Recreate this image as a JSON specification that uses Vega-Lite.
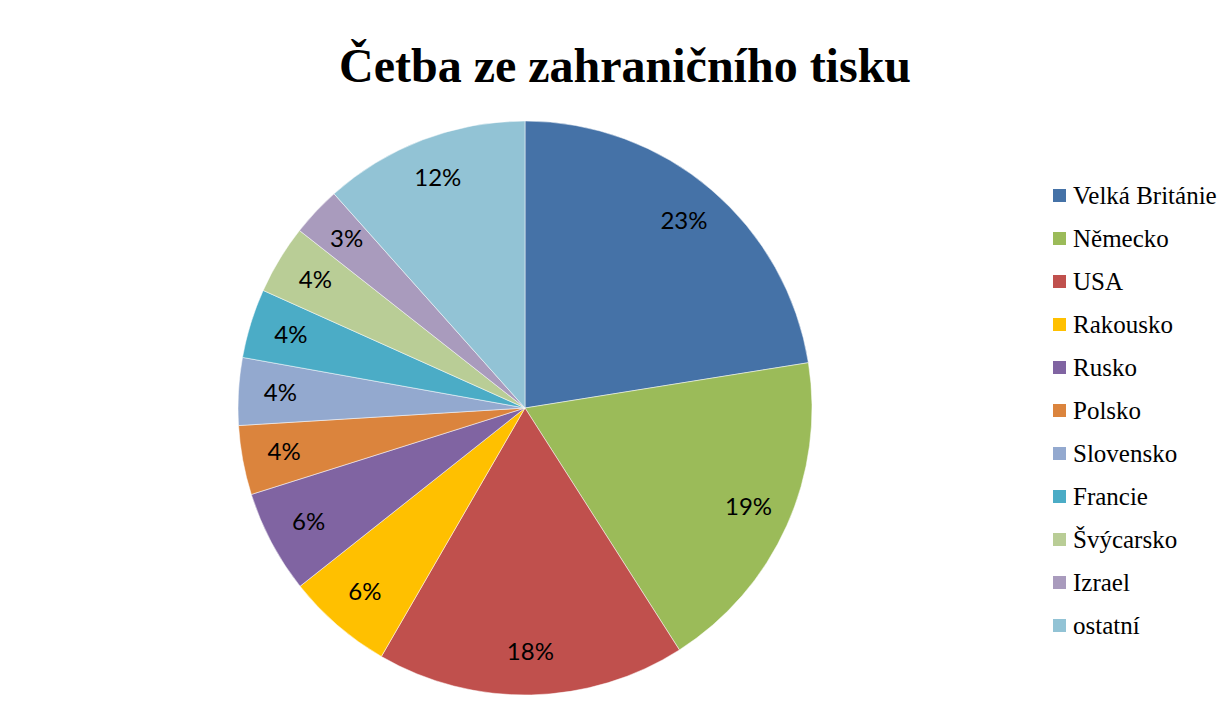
{
  "$schema": "https://vega.github.io/schema/vega-lite/v6.json",
  "autosize": "none",
  "width": 574,
  "height": 574,
  "padding": {"left": 238, "top": 121, "right": 418, "bottom": 20},
  "background": "white",
  "title": {
    "text": "Četba ze zahraničního tisku",
    "font": "Liberation Serif",
    "fontSize": 48,
    "fontWeight": "bold",
    "color": "black",
    "anchor": "middle",
    "dx": 100,
    "offset": -10,
    "baseline": "alphabetic",
    "limit": 1000
  },
  "config": {
    "view": {"stroke": null}
  },
  "data": {
    "values": [
      {"zeme": "Velká Británie", "podil": 22.5, "label": "23%", "poradi": 1},
      {"zeme": "Německo", "podil": 18.5, "label": "19%", "poradi": 2},
      {"zeme": "USA", "podil": 17.4, "label": "18%", "poradi": 3},
      {"zeme": "Rakousko", "podil": 6.0, "label": "6%", "poradi": 4},
      {"zeme": "Rusko", "podil": 5.8, "label": "6%", "poradi": 5},
      {"zeme": "Polsko", "podil": 3.9, "label": "4%", "poradi": 6},
      {"zeme": "Slovensko", "podil": 3.8, "label": "4%", "poradi": 7},
      {"zeme": "Francie", "podil": 3.9, "label": "4%", "poradi": 8},
      {"zeme": "Švýcarsko", "podil": 3.9, "label": "4%", "poradi": 9},
      {"zeme": "Izrael", "podil": 2.8, "label": "3%", "poradi": 10},
      {"zeme": "ostatní", "podil": 11.6, "label": "12%", "poradi": 11}
    ]
  },
  "encoding": {
    "theta": {"field": "podil", "type": "quantitative", "stack": true},
    "order": {"field": "poradi", "type": "quantitative"}
  },
  "layer": [
    {
      "mark": {"type": "arc", "stroke": "white", "strokeWidth": 0.5},
      "encoding": {
        "color": {
          "field": "zeme",
          "type": "nominal",
          "sort": ["Velká Británie", "Německo", "USA", "Rakousko", "Rusko", "Polsko", "Slovensko", "Francie", "Švýcarsko", "Izrael", "ostatní"],
          "scale": {
            "domain": ["Velká Británie", "Německo", "USA", "Rakousko", "Rusko", "Polsko", "Slovensko", "Francie", "Švýcarsko", "Izrael", "ostatní"],
            "range": ["#4572A7", "#9BBB59", "#C0504D", "#FFC000", "#8064A2", "#DB843D", "#93A9CF", "#4BACC6", "#B9CD96", "#A99BBD", "#92C3D5"]
          },
          "legend": {
            "title": null,
            "orient": "none",
            "legendX": 809,
            "legendY": 62,
            "padding": 0,
            "symbolType": "square",
            "symbolSize": 169,
            "symbolStrokeWidth": 0,
            "symbolOpacity": 1,
            "labelFont": "Liberation Serif",
            "labelFontSize": 25,
            "labelColor": "black",
            "labelOffset": 1,
            "labelLimit": 300,
            "rowPadding": 17
          }
        }
      }
    },
    {
      "mark": {"type": "text", "radius": 245, "font": "Lato", "fontSize": 24, "color": "black"},
      "encoding": {
        "text": {"field": "label", "type": "nominal"}
      }
    }
  ]
}
